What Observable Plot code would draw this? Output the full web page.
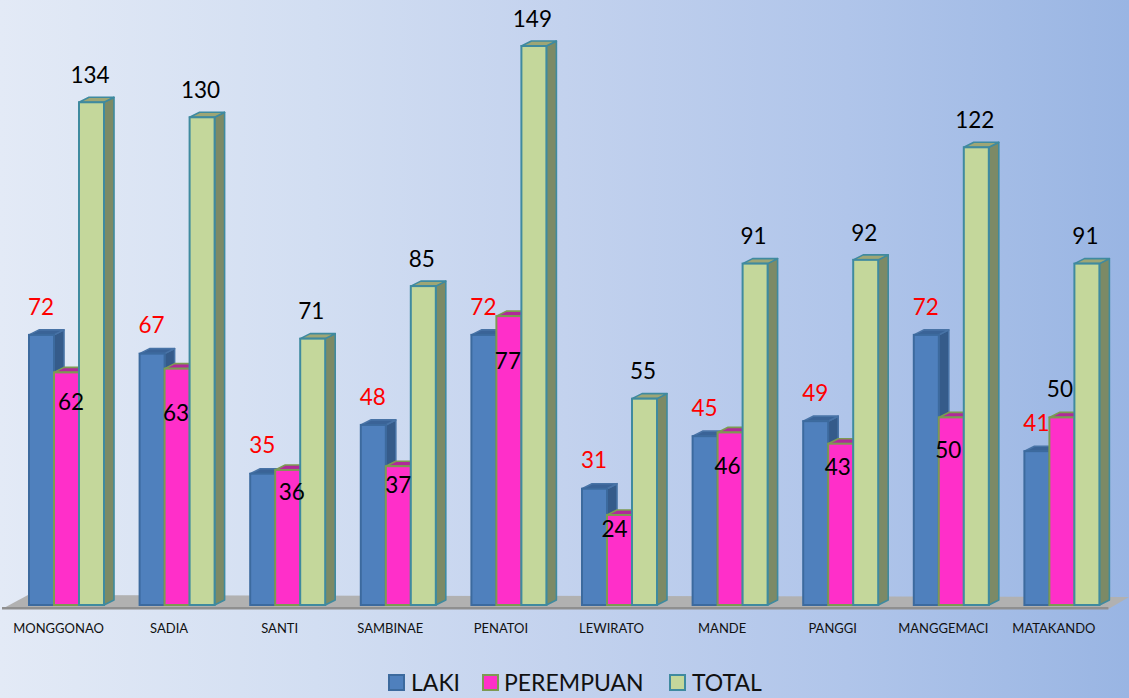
<!DOCTYPE html>
<html><head><meta charset="utf-8">
<script src="https://cdn.jsdelivr.net/npm/d3@7"></script>
<script src="https://cdn.jsdelivr.net/npm/@observablehq/plot@0.6"></script>
<style>
html,body{margin:0;padding:0;width:1129px;height:698px;overflow:hidden;}
body{background:linear-gradient(90deg,#e3eaf6 0%,#d2def2 28%,#c3d2ee 50%,#b0c5ea 75%,#99b5e3 100%);font-family:Lato,sans-serif;}
#legend{position:relative;height:38px;font-size:23px;color:#111;}
#legend span{position:absolute;top:8px;line-height:28px;white-space:nowrap;}
#legend i{position:absolute;top:14px;width:13px;height:13px;border:2px solid;display:block;}
svg{display:block;background:transparent!important;}
</style></head><body>
<div id="chart"></div>
<div id="legend"></div>
<script>
const categories = ["MONGGONAO","SADIA","SANTI","SAMBINAE","PENATOI","LEWIRATO","MANDE","PANGGI","MANGGEMACI","MATAKANDO"];
const series = ["LAKI","PEREMPUAN","TOTAL"];
const laki      = [72,67,35,48,72,31,45,49,72,41];
const perempuan = [62,63,36,37,77,24,46,43,50,50];
const total     = [134,130,71,85,149,55,91,92,122,91];
// hand-placed label nudges for the PEREMPUAN values [dx, dy from bar top]
const pinkNudge = [[4.5,31],[-1,46],[4,23],[0,20],[-1,46],[-5,15],[-2.5,35],[-3,25],[-3,34],[-2,-27]];

const style = {
  LAKI:      {front:"#4f80bd", side:"#355b8a", top:"#3a6397", stroke:"#3c6a9e", edge:"#4873a6"},
  PEREMPUAN: {front:"#ff2fc9", side:"#a83a96", top:"#b0299a", stroke:"#7d9a52", edge:"#7d9a52"},
  TOTAL:     {front:"#c4d79b", side:"#7c8a66", top:"#9ea675", stroke:"#3f8a9f", edge:"#3f8a9f"}
};
const rows = categories.flatMap((c,i)=>[
  {c,s:"LAKI",v:laki[i]},{c,s:"PEREMPUAN",v:perempuan[i]},{c,s:"TOTAL",v:total[i]}]);
const DX=10, DY=5;
const NS="http://www.w3.org/2000/svg";
function poly(pts,fill,stroke){
  const p=document.createElementNS(NS,"polygon");
  p.setAttribute("points",pts.map(a=>a.join(",")).join(" "));
  p.setAttribute("fill",fill);p.setAttribute("stroke",stroke);p.setAttribute("stroke-width",stroke==="none"?0:1.6);
  p.setAttribute("stroke-linejoin","round");
  return p;
}
function bars3d(index,scales,values,dims,ctx,next){
  const g=next(index,scales,values,dims,ctx);
  g.querySelectorAll("rect").forEach((r,k)=>{
    const d=rows[index[k]], st=style[d.s];
    const x=+r.getAttribute("x"),y=+r.getAttribute("y"),w=+r.getAttribute("width"),h=+r.getAttribute("height");
    r.setAttribute("stroke",st.stroke);r.setAttribute("stroke-width",2);
    r.setAttribute("fill",st.front);
    const par=r.parentNode;
    par.insertBefore(poly([[x+w,y],[x+w+DX,y-DY],[x+w+DX,y+h-DY],[x+w,y+h]],st.side,st.edge),r);
    par.insertBefore(poly([[x,y],[x+DX,y-DY],[x+w+DX,y-DY],[x+w,y]],st.top,st.edge),r);
  });
  return g;
}
function floor(index,scales,values,dims){
  const g=document.createElementNS(NS,"g");
  const b=scales.y(0), L=dims.marginLeft, R=dims.width-dims.marginRight;
  g.appendChild(poly([[L-27,b+4],[L-1,b-10],[dims.width,b-8],[R+9,b+4]],"#b1b1b1","none"));
  g.appendChild(poly([[L-27,b+2],[R+9,b+2],[R+9,b+4.5],[L-27,b+4.5]],"#8f8f8f","none"));
  return g;
}
const textFont="Lato, sans-serif";
const lakiRows=rows.filter(d=>d.s==="LAKI"), totalRows=rows.filter(d=>d.s==="TOTAL"), pinkRows=rows.filter(d=>d.s==="PEREMPUAN");
const chart=Plot.plot({
  width:1129,height:660,marginLeft:29,marginRight:29.6,marginTop:46,marginBottom:55,
  style:{background:"transparent",fontFamily:textFont},
  fx:{domain:categories,paddingInner:1-75/110.6,paddingOuter:0,round:false,label:null},
  x:{domain:series,padding:0,round:false,axis:null},
  y:{domain:[0,149],axis:null},
  marks:[
    Plot.frame({facet:"super",render:floor}),
    Plot.barY(rows,{fx:"c",x:"s",y:"v",fill:"#888",inset:0,render:bars3d}),
    Plot.text(lakiRows,{fx:"c",x:"s",y:"v",text:d=>String(d.v),fill:"#fe0000",fontSize:22.5,dx:-1,dy:-28}),
    Plot.text(totalRows,{fx:"c",x:"s",y:"v",text:d=>String(d.v),fill:"#000",fontSize:22.5,dx:-2,dy:-27}),
    ...pinkRows.map((d,i)=>Plot.text([d],{fx:"c",x:"s",y:"v",text:e=>String(e.v),fill:"#000",fontSize:22.5,dx:pinkNudge[i][0]-0.5,dy:pinkNudge[i][1]-1})),
    Plot.axisFx({anchor:"bottom",tickSize:0,tickPadding:10,fontSize:13,dx:-8.5,dy:8,fill:"#111",label:null})
  ]
});
document.getElementById("chart").appendChild(chart);
const lg=document.getElementById("legend");
[["LAKI",388,411],["PEREMPUAN",482,504],["TOTAL",669,692]].forEach(([n,sx,tx])=>{
  const i=document.createElement("i");i.style.left=sx+"px";i.style.background=style[n].front;i.style.borderColor=style[n].stroke;lg.appendChild(i);
  const s=document.createElement("span");s.textContent=n;s.style.left=tx+"px";lg.appendChild(s);
});
</script>
</body></html>
